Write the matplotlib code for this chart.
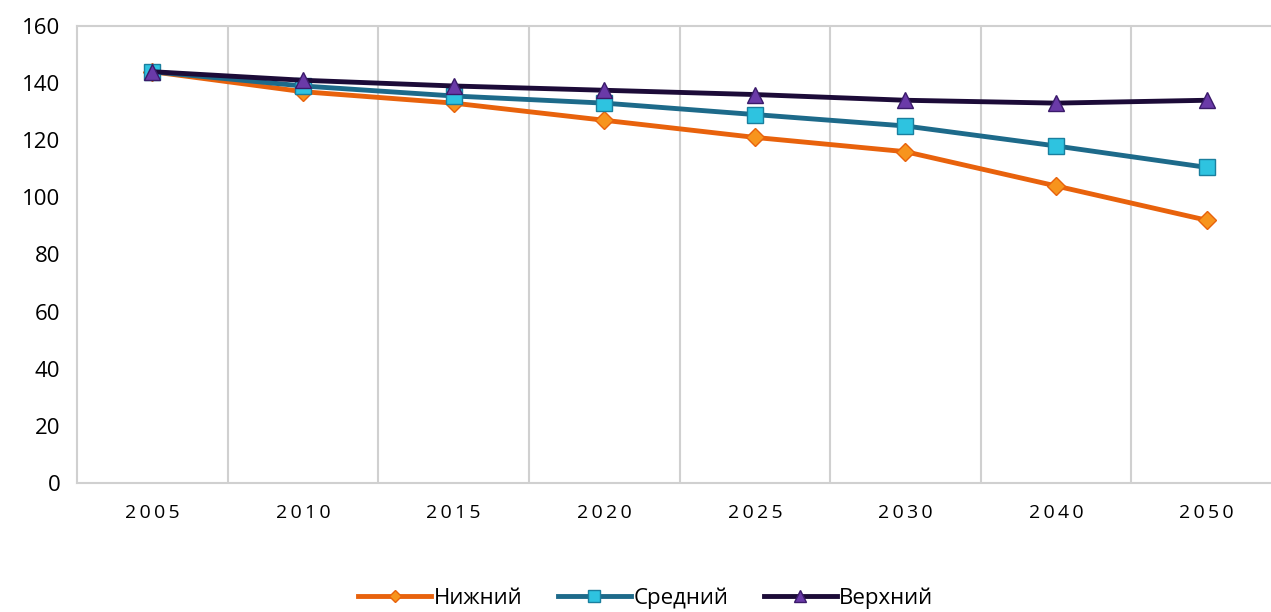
import matplotlib.pyplot as plt
import numpy as np

years = ["2005", "2010", "2015", "2020", "2025", "2030", "2040", "2050"]
low = [144, 137, 133, 127, 121, 116, 104, 92]
mid = [144, 139, 135.5, 133, 129, 125, 118, 110.5]
high = [144, 141, 139, 137.5, 136, 134, 133, 134]
names = ["Нижний", "Средний", "Верхний"]


def main():
    plt.rcParams['font.family'] = ['Open Sans', 'DejaVu Sans']
    fig = plt.figure(figsize=(12.71, 6.12), dpi=100)
    ax = fig.add_axes([77 / 1271, 129 / 612, 1205 / 1271, 457 / 612])

    x = np.arange(len(years))
    ax.plot(x, low, color="#E8620C", lw=3.5, marker="D", ms=9,
            mfc="#F7941D", mec="#E8620C", mew=1, label=names[0], zorder=3)
    ax.plot(x, mid, color="#1D6A8A", lw=3.5, marker="s", ms=12,
            mfc="#2EC3E0", mec="#1A7F9E", mew=1, label=names[1], zorder=4)
    ax.plot(x, high, color="#1C0B38", lw=3.5, marker="^", ms=12,
            mfc="#6A3AA8", mec="#3A1A6A", mew=1, label=names[2], zorder=5)

    ax.set_xlim(-0.5, len(years) - 0.5)
    ax.set_ylim(0, 160)
    ax.set_yticks(range(0, 161, 20))
    ax.set_xticks(x)
    ax.set_xticklabels(["\u2009".join(y) for y in years], fontsize=14)
    ax.tick_params(axis="y", labelsize=16, length=0, pad=12)
    ax.tick_params(axis="x", length=0, pad=15)
    for b in np.arange(0.5, len(years) - 1, 1.0):
        ax.axvline(b, color="#D0D0D0", lw=1.5, zorder=1)
    for s in ax.spines.values():
        s.set_color("#D0D0D0")
        s.set_linewidth(1.5)

    fig.legend(loc="center", bbox_to_anchor=(0.508, 0.023), ncol=3,
               frameon=False, fontsize=16, handlelength=3.3, markerscale=0.7,
               columnspacing=1.6, handletextpad=0.1)
    fig.savefig("out.png", dpi=100)


if __name__ == '__main__':
    main()
